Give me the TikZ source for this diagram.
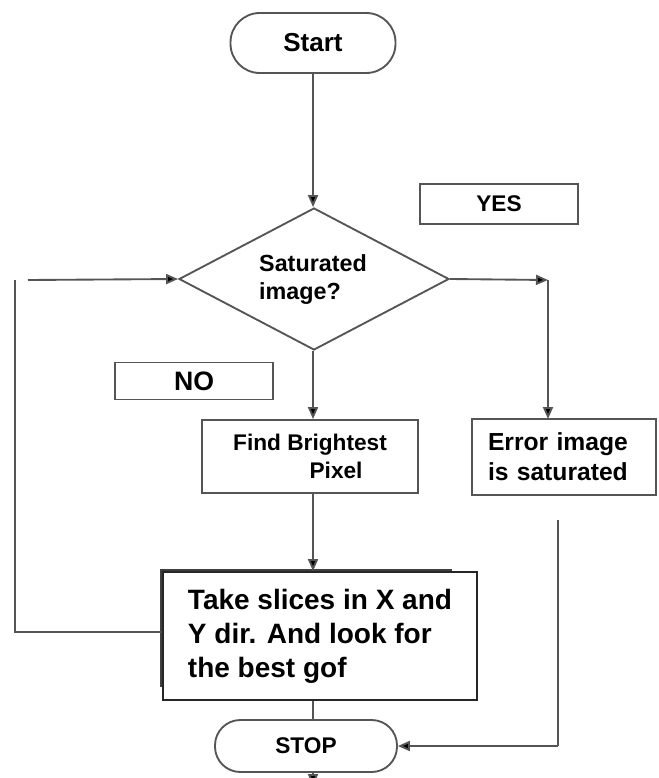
\documentclass[tikz,border=0pt]{standalone}
\usepackage{fontspec}
\setmainfont{Liberation Sans}
\usetikzlibrary{shapes.geometric,arrows.meta}
\definecolor{edge}{HTML}{555555}
\begin{document}
\begin{tikzpicture}[x=0.75pt,y=-0.75pt,
  every node/.style={font=\bfseries\fontsize{17}{21}\selectfont, text=black},
  pill/.style={draw=edge, line width=1.4pt, rounded corners=19pt, fill=white},
  boxed/.style={draw=edge, line width=1.4pt, fill=white, rectangle},
  dia/.style={draw=edge, line width=1.4pt, diamond, inner sep=0pt, fill=white},
  conn/.style={draw=edge, line width=1.4pt},
  arr/.style={conn, -{Triangle[length=9pt,width=7.5pt,fill=black]}}
]
\useasboundingbox (0,0) rectangle (658,778);

\node[pill, minimum width=123.75pt, minimum height=45pt, rounded corners=22pt,
  font=\bfseries\fontsize{19.5}{23}\selectfont] (start) at (313,43) {Start};
\node[dia, minimum width=202.5pt, minimum height=106.5pt] (sat) at (314,279) {};
\node (sattext) at (313,280) [align=left, font=\bfseries\fontsize{17.5}{21}\selectfont] {Saturated\\image?};
\node[boxed, minimum width=118.5pt, minimum height=30pt] (yes) at (499,204) {YES};
\node[boxed, minimum width=118.5pt, minimum height=27.75pt,
  font=\bfseries\fontsize{20}{24}\selectfont] (no) at (194,381) {NO};
\node[boxed, minimum width=162pt, minimum height=54.75pt, align=center] (find) at (310,456.5)
  {Find Brightest\\\hspace*{2.3em}Pixel};
\node[boxed, minimum width=138pt, minimum height=57pt, text width=114pt, align=left, inner sep=0pt,
  font=\bfseries\fontsize{18.5}{22.5}\selectfont] (err) at (564,457)
  {Error image\\is saturated};
% shadow box behind Take box
\node[boxed, draw=black!75, minimum width=217.5pt, minimum height=87pt, anchor=north west, inner sep=0pt] (takeback) at (160,569) {};
\node[boxed, draw=black!85, minimum width=235.5pt, minimum height=96pt, align=left, inner sep=0pt,
  font=\bfseries\fontsize{21}{25.5}\selectfont] (take) at (320,636)
  {Take slices in X and\\Y dir. And look for\\the best gof};
\node[pill, minimum width=136.5pt, minimum height=39pt] (stop) at (306,746) {STOP};

\coordinate (col) at (313,0);
\coordinate (yescorner) at (548,280);
\coordinate (errtop) at (548,419);
\coordinate (errlinetop) at (558,520);
\coordinate (errlinebot) at (558,746);
\coordinate (loopA) at (15,632);
\coordinate (loopB) at (15,280);
\coordinate (loopC) at (28,280);
\coordinate (stopout) at (313,786);

\draw[arr] (start.south -| col) -- (sat.north -| col);
\draw[arr] (sat.east) -- (yescorner);
\draw[arr] (yescorner) -- (errtop);
\draw[arr] (sat.south -| col) -- (find.north -| col);
\draw[arr] (find.south -| col) -- (take.north -| col);
\draw[conn] (take.south -| col) -- (stop.north -| col);
\draw[arr] (stop.south -| col) -- (stopout);
\draw[conn] (errlinetop) -- (errlinebot);
\draw[arr] (errlinebot) -- (stop.east);
\draw[conn] (take.west |- loopA) -- (loopA) -- (loopB);
\draw[arr] (loopC) -- (sat.west);
\end{tikzpicture}
\end{document}
